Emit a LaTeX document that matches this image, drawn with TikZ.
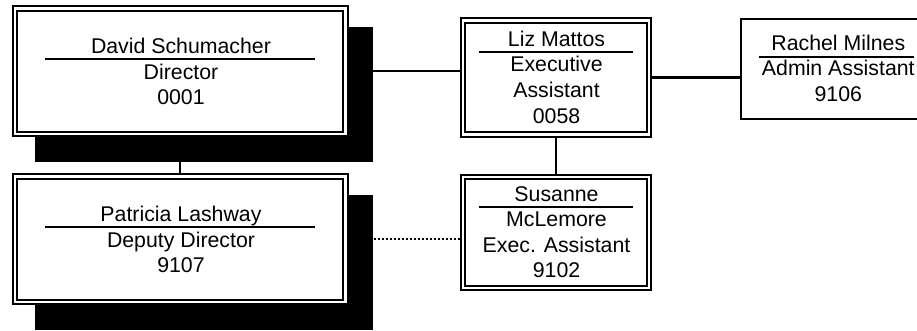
\documentclass[tikz,border=0pt]{standalone}
\usepackage{fontspec}
\setmainfont{Liberation Sans}
\pgfdeclarelayer{bg}
\pgfdeclarelayer{shade}
\pgfsetlayers{bg,shade,main}
\begin{document}
\begin{tikzpicture}[x=1pt,y=-1pt,
  dbox/.style={rectangle,draw,line width=2pt,double,double distance=2.4pt,fill=white,inner sep=0pt,outer sep=0pt},
  sbox/.style={rectangle,draw,line width=2pt,fill=white,inner sep=0pt,outer sep=0pt},
  txt/.style={anchor=base,inner sep=0pt,font=\fontsize{21.3}{25}\selectfont},
  conn/.style={line width=2.1pt},
  dotconn/.style={line width=2pt,dash pattern=on 2pt off 2pt},
  rulel/.style={line width=1.8pt},
  shadowfill/.style={fill=black}]
\useasboundingbox (0,0) rectangle (917,330);
\clip (0,0) rectangle (917,330);

% boxes
\node[dbox,minimum width=330.3pt,minimum height=125.6pt] (david) at (180.35,71.3) {};
\node[dbox,minimum width=330.3pt,minimum height=125.6pt] (patricia) at (180.35,239.3) {};
\node[dbox,minimum width=185.6pt,minimum height=114pt] (liz) at (556,77.5) {};
\node[dbox,minimum width=185.6pt,minimum height=111.2pt] (susanne) at (556,232.5) {};
\node[sbox,minimum width=194pt,minimum height=100.3pt] (rachel) at (838,69.2) {};

% shadows
\begin{pgfonlayer}{shade}
\clip (0,0) rectangle (917,330);
\fill[shadowfill] ([shift={(19.8,18.8)}]david.north west) rectangle ([shift={(27.2,27.9)}]david.south east);
\fill[shadowfill] ([shift={(19.8,18.8)}]patricia.north west) rectangle ([shift={(27.2,27.9)}]patricia.south east);
\end{pgfonlayer}

% connectors
\begin{pgfonlayer}{bg}
\fill[white] (0,0) rectangle (917,330);
\draw[conn] (david) -- (patricia);
\draw[conn] (david.east) -- (david.east -| liz.west);
\draw[dotconn] (patricia.east) -- (patricia.east -| susanne.west);
\draw[conn] (liz) -- (susanne);
\draw[conn] (liz.east) -- (liz.east -| rachel.west);
\end{pgfonlayer}

% David
\node[txt] (davidname) at (181,53.3) {David Schumacher};
\draw[rulel] (45.3,59.3) -- (315.3,59.3);
\node[txt] (davidtitle) at (181,79) {Director};
\node[txt] (davidnum) at (181,104.3) {0001};

% Patricia
\node[txt] (patname) at (181,221.3) {Patricia Lashway};
\draw[rulel] (45.3,227.3) -- (315.3,227.3);
\node[txt] (pattitle) at (181,247) {Deputy Director};
\node[txt] (patnum) at (181,272.3) {9107};

% Liz
\node[txt] (lizname) at (556.5,46) {Liz Mattos};
\draw[rulel] (478.7,52.3) -- (633.3,52.3);
\node[txt] (liztitlea) at (556.5,71.7) {Executive};
\node[txt] (liztitleb) at (556.5,97.3) {Assistant};
\node[txt] (liznum) at (556.5,123) {0058};

% Susanne
\node[txt] (susname) at (556.5,201) {Susanne};
\draw[rulel] (478.7,206.7) -- (633.3,206.7);
\node[txt] (susnameb) at (556.5,226) {McLemore};
\node[txt] (sustitle) at (556.5,252.3) {Exec. Assistant};
\node[txt] (susnum) at (556.5,277.7) {9102};

% Rachel
\node[txt] (racname) at (838.3,50) {Rachel Milnes};
\draw[rulel] (759.3,56.7) -- (914.3,56.7);
\node[txt] (ractitle) at (838.3,75.7) {Admin Assistant};
\node[txt] (racnum) at (838.3,101) {9106};
\end{tikzpicture}
\end{document}
